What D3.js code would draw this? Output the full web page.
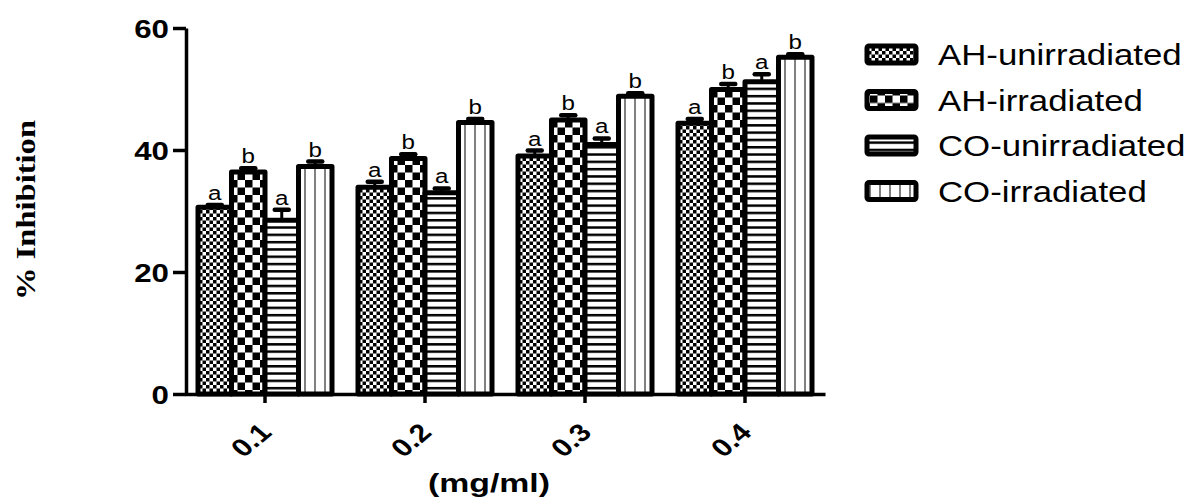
<!DOCTYPE html>
<html>
<head>
<meta charset="utf-8">
<script src="https://cdn.jsdelivr.net/npm/d3@7"></script>
<style>
  body { margin: 0; background: #fff; }
  svg { display: block; }
</style>
</head>
<body>
<svg id="chart" width="1189" height="498"></svg>
<script>
// doses on the x axis, one group of four bars each
var doses = ['0.1', '0.2', '0.3', '0.4'];
var seriesNames = ['AH-unirradiated', 'AH-irradiated', 'CO-unirradiated', 'CO-irradiated'];

// % inhibition
var ahUnirradiated = [30.6, 33.9, 39.0, 44.4];
var ahIrradiated   = [36.4, 38.6, 44.9, 49.9];
var coUnirradiated = [28.5, 33.0, 40.9, 51.2];
var coIrradiated   = [37.3, 44.5, 48.8, 55.2];

// upper error (SD)
var ahUnirradiatedErr = [0.4, 0.9, 0.9, 0.7];
var ahIrradiatedErr   = [0.6, 0.7, 0.8, 0.9];
var coUnirradiatedErr = [1.7, 0.7, 1.0, 1.2];
var coIrradiatedErr   = [0.8, 0.6, 0.5, 0.5];

// significance letters
var ahUnirradiatedSig = ['a', 'a', 'a', 'a'];
var ahIrradiatedSig   = ['b', 'b', 'b', 'b'];
var coUnirradiatedSig = ['a', 'a', 'a', 'a'];
var coIrradiatedSig   = ['b', 'b', 'b', 'b'];

var yTicks = [0, 20, 40, 60];

var values  = [ahUnirradiated, ahIrradiated, coUnirradiated, coIrradiated];
var errors  = [ahUnirradiatedErr, ahIrradiatedErr, coUnirradiatedErr, coIrradiatedErr];
var letters = [ahUnirradiatedSig, ahIrradiatedSig, coUnirradiatedSig, coIrradiatedSig];
var fills   = ['url(#fineCheck)', 'url(#bigCheck)', 'url(#hLines)', 'url(#vLines)'];

var svg = d3.select('#chart');

/* Schraffuren */
var defs = svg.append('defs');

function pattern(id, w, h, x) {
    var p = defs.append('pattern')
        .attr('id', id)
        .attr('patternUnits', 'userSpaceOnUse')
        .attr('x', x || 0).attr('y', 0)
        .attr('width', w).attr('height', h);
    p.append('rect').attr('width', w).attr('height', h).attr('fill', '#fff');
    return p;
}

var p1 = pattern('fineCheck', 7, 7);
p1.append('rect').attr('x', 0).attr('y', 0).attr('width', 3.5).attr('height', 3.5).attr('fill', '#000');
p1.append('rect').attr('x', 3.5).attr('y', 3.5).attr('width', 3.5).attr('height', 3.5).attr('fill', '#000');

var p2 = pattern('bigCheck', 15, 15);
p2.append('rect').attr('x', 0).attr('y', 0).attr('width', 7.5).attr('height', 7.5).attr('fill', '#000');
p2.append('rect').attr('x', 7.5).attr('y', 7.5).attr('width', 7.5).attr('height', 7.5).attr('fill', '#000');

var p3 = pattern('hLines', 10, 7.3);
p3.append('rect').attr('x', 0).attr('y', 0).attr('width', 10).attr('height', 2.5).attr('fill', '#000');

var p4 = pattern('vLines', 10, 10, 0.5);
p4.append('rect').attr('x', 9).attr('y', 0).attr('width', 2).attr('height', 10).attr('fill', '#000');

/* Skalen */
var x0 = d3.scaleBand().domain(doses).range([185, 825]);
var x1 = d3.scaleBand().domain(d3.range(seriesNames.length)).range([13, 147]);
var y = d3.scaleLinear().domain([0, 60]).range([394, 28]);

/* Balken */
var groups = svg.append('g').selectAll('g')
    .data(doses)
    .join('g')
    .attr('transform', function(d) { return 'translate(' + x0(d) + ',0)'; });

var bars = groups.selectAll('g.bar')
    .data(function(d, i) {
        return seriesNames.map(function(s, k) {
            return { k: k, v: values[k][i], e: errors[k][i], sig: letters[k][i] };
        });
    })
    .join('g')
    .attr('class', 'bar');

bars.append('rect')
    .attr('x', function(d) { return x1(d.k); })
    .attr('y', function(d) { return y(d.v); })
    .attr('width', x1.bandwidth())
    .attr('height', function(d) { return y(0) - y(d.v); })
    .attr('fill', function(d) { return fills[d.k]; })
    .attr('stroke', '#000')
    .attr('stroke-width', 5)
    .attr('stroke-linejoin', 'round');

// nur der obere Fehlerbalken
bars.append('line')
    .attr('x1', function(d) { return x1(d.k) + x1.bandwidth() / 2; })
    .attr('x2', function(d) { return x1(d.k) + x1.bandwidth() / 2; })
    .attr('y1', function(d) { return y(d.v); })
    .attr('y2', function(d) { return y(d.v + d.e); })
    .attr('stroke', '#000').attr('stroke-width', 3);

bars.append('line')
    .attr('x1', function(d) { return x1(d.k) + x1.bandwidth() / 2 - 7; })
    .attr('x2', function(d) { return x1(d.k) + x1.bandwidth() / 2 + 7; })
    .attr('y1', function(d) { return y(d.v + d.e); })
    .attr('y2', function(d) { return y(d.v + d.e); })
    .attr('stroke', '#000').attr('stroke-width', 4.5)
    .attr('stroke-linecap', 'round');

bars.append('text')
    .attr('transform', function(d) {
        return 'translate(' + (x1(d.k) + x1.bandwidth() / 2) + ',' + (y(d.v + d.e) - 5) + ') scale(1.15,1)';
    })
    .attr('text-anchor', 'middle')
    .attr('font-family', 'Liberation Sans, Arial, sans-serif')
    .attr('font-size', 21)
    .attr('fill', '#000')
    .text(function(d) { return d.sig; });

/* Achsen */
var yAxis = svg.append('g')
    .attr('transform', 'translate(186,0)')
    .call(d3.axisLeft(y).tickValues(yTicks).tickSize(13).tickSizeOuter(0).tickFormat(d3.format('d')));

var xAxis = svg.append('g')
    .attr('transform', 'translate(0,394)')
    .call(d3.axisBottom(x0).tickSize(9).tickSizeOuter(0));

[yAxis, xAxis].forEach(function(a) {
    a.select('.domain').attr('stroke', '#000').attr('stroke-width', 3.5);
    a.selectAll('.tick line').attr('stroke', '#000').attr('stroke-width', 3.5);
    a.selectAll('.tick text')
        .attr('font-family', 'Liberation Sans, Arial, sans-serif')
        .attr('font-weight', 'bold')
        .attr('font-size', 25)
        .attr('fill', '#000');
});

yAxis.selectAll('.tick text')
    .attr('x', null).attr('dy', null)
    .attr('transform', 'translate(-17,9) scale(1.25,1)')
    .attr('text-anchor', 'end');

xAxis.selectAll('.tick text')
    .attr('y', null).attr('dy', null)
    .attr('transform', 'translate(8,40) scale(1.2,1) rotate(-45)')
    .attr('text-anchor', 'end');

/* Achsentitel */
svg.append('text')
    .attr('transform', 'translate(489,492) scale(1.3,1)')
    .attr('text-anchor', 'middle')
    .attr('font-family', 'Liberation Sans, Arial, sans-serif')
    .attr('font-weight', 'bold')
    .attr('font-size', 26)
    .text('(mg/ml)');

svg.append('text')
    .attr('transform', 'translate(35,210) rotate(-90)')
    .attr('text-anchor', 'middle')
    .attr('font-family', 'Liberation Serif, Times New Roman, serif')
    .attr('font-weight', 'bold')
    .attr('font-size', 27)
    .attr('textLength', 180)
    .attr('lengthAdjust', 'spacingAndGlyphs')
    .text('% Inhibition');

/* Legende */
var legend = svg.append('g').selectAll('g')
    .data(seriesNames)
    .join('g')
    .attr('transform', function(d, i) { return 'translate(0,' + (65 + i * 45.5) + ')'; });

legend.append('rect')
    .attr('x', 867).attr('y', -19)
    .attr('width', 49).attr('height', 17)
    .attr('rx', 2)
    .attr('fill', function(d, i) { return fills[i]; })
    .attr('stroke', '#000').attr('stroke-width', 5)
    .attr('stroke-linejoin', 'round');

legend.append('text')
    .attr('transform', 'translate(938,0) scale(1.2,1)')
    .attr('font-family', 'Liberation Sans, Arial, sans-serif')
    .attr('font-size', 29)
    .attr('fill', '#000')
    .text(function(d) { return d; });
</script>
</body>
</html>
